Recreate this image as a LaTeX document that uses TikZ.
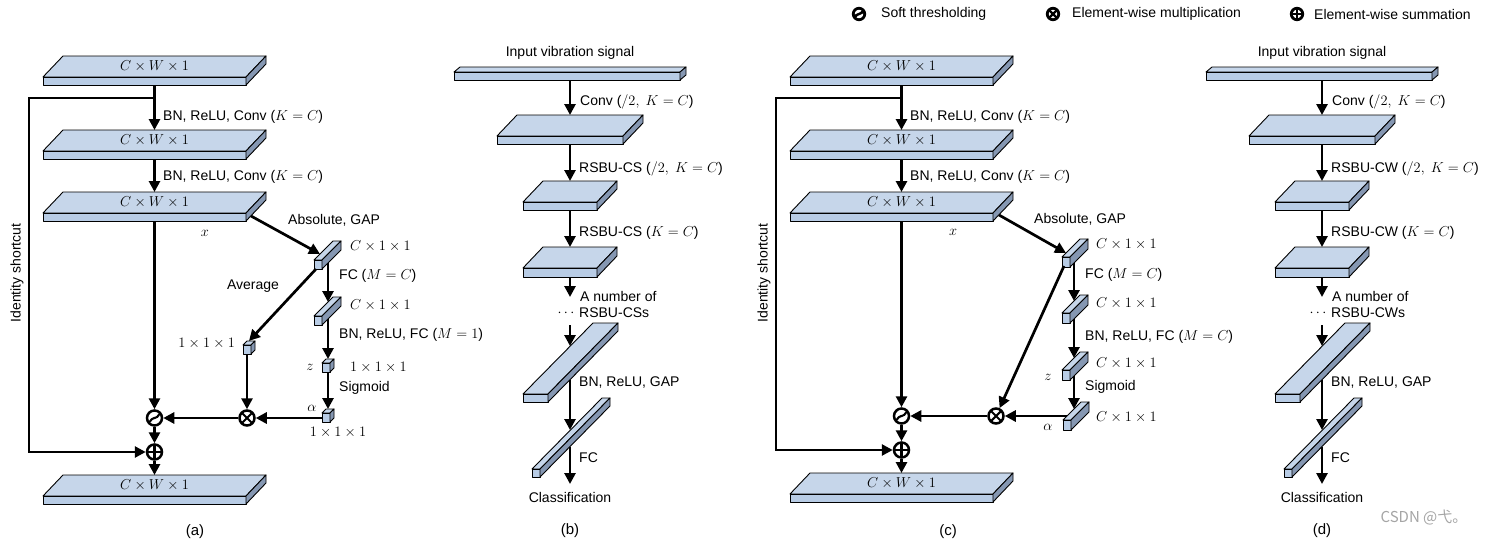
\documentclass[tikz,border=0pt]{standalone}
\usepackage[no-math]{fontspec}
\setmainfont{Liberation Sans}
\newfontfamily\cjkfont{Noto Sans CJK SC}
\usetikzlibrary{arrows.meta}
\definecolor{topc}{RGB}{198,214,234}
\definecolor{frontc}{RGB}{184,204,229}
\definecolor{sidec}{RGB}{133,151,178}
\definecolor{wmark}{RGB}{165,165,165}

% #1 name, #2 x, #3 y (front face top-left), #4 w, #5 h, #6 dx, #7 dy
\newcommand{\slabbox}[7]{%
  \filldraw[fill=topc,slabline] (#2,#3) -- (#2+#6,#3+#7) -- (#2+#4+#6,#3+#7) -- (#2+#4,#3) -- cycle;
  \filldraw[fill=frontc,slabline] (#2,#3) rectangle (#2+#4,#3+#5);
  \filldraw[fill=sidec,slabline] (#2+#4,#3) -- (#2+#4+#6,#3+#7) -- (#2+#4+#6,#3+#7+#5) -- (#2+#4,#3+#5) -- cycle;
  \coordinate (#1in) at (#2+#4/2+#6/2,#3+#7);
  \coordinate (#1out) at (#2+#4/2+#6/2,#3+#5);
  \coordinate (#1lab) at (#2+#4/2+#6/2,#3+#7/2);
}
\newcommand{\gsoft}[3]{\draw[line width=#3, rounded corners=1.5pt] ([shift={(-5*#2,4*#2)}]#1.center) -- ([shift={(-1.8*#2,0)}]#1.center) -- ([shift={(1.8*#2,0)}]#1.center) -- ([shift={(5*#2,-4*#2)}]#1.center);}
\newcommand{\gtimes}[3]{\draw[line width=#3] ([shift={(-5.3*#2,-5.3*#2)}]#1.center) -- ([shift={(5.3*#2,5.3*#2)}]#1.center) ([shift={(-5.3*#2,5.3*#2)}]#1.center) -- ([shift={(5.3*#2,-5.3*#2)}]#1.center);}
\newcommand{\gplus}[3]{\draw[line width=#3] ([shift={(-7.5*#2,0)}]#1.center) -- ([shift={(7.5*#2,0)}]#1.center) ([shift={(0,-7.5*#2)}]#1.center) -- ([shift={(0,7.5*#2)}]#1.center);}

\begin{document}
\begin{tikzpicture}[x=1pt,y=-1pt,
  slabline/.style={draw=black,line width=0.9pt,line join=round},
  arr/.style={line width=2.7pt,-{Triangle[length=11pt,width=11pt]}},
  op/.style={circle,draw,line width=2.5pt,minimum size=15pt,inner sep=0pt,fill=white},
  lg/.style={circle,draw,line width=2.8pt,minimum size=11.5pt,inner sep=0pt,fill=white},
  lab/.style={font=\fontsize{14}{16}\selectfont,inner sep=0pt,anchor=west},
  clab/.style={font=\fontsize{14}{16}\selectfont,inner sep=0pt},
  plab/.style={font=\fontsize{15}{17}\selectfont,inner sep=0pt}]
\useasboundingbox (0,0) rectangle (1488,546);
\fill[white] (0,0) rectangle (1488,546);

% ---------------- legend ----------------
\node[lg] (lgs) at (859,14) {}; \gsoft{lgs}{0.8}{2.4pt}
\node[lab] (lgst) at (881,14) {Soft thresholding};
\node[lg] (lgt) at (1053,14) {}; \gtimes{lgt}{0.77}{2.4pt}
\node[lab] (lgtt) at (1072,14) {Element-wise multiplication};
\node[lg] (lgp) at (1297,14) {}; \gplus{lgp}{0.77}{2.4pt}
\node[lab] (lgpt) at (1314,14) {Element-wise summation};

% ---------------- panels (a) and (c): common trunk ----------------
\foreach \P/\sh/\dy in {a/0/0, c/747/-2}{
\begin{scope}[xshift=\sh pt]
  \slabbox{\P1}{43}{77}{203}{8}{20}{-21}
  \slabbox{\P2}{43}{151}{203}{8}{20}{-21}
  \slabbox{\P3}{43}{213}{203}{8}{20}{-21}
  \slabbox{\P4}{43}{496+\dy}{203}{8}{20}{-21}
  \node[clab] (\P1t) at (\P1lab) {$C\times W\times 1$};
  \node[clab] (\P2t) at (\P2lab) {$C\times W\times 1$};
  \node[clab] (\P3t) at (\P3lab) {$C\times W\times 1$};
  \node[clab] (\P4t) at (\P4lab) {$C\times W\times 1$};
  \node[lab] (\P l1) at (163,117) {BN, ReLU, Conv ($K=C$)};
  \node[lab] (\P l2) at (163,177) {BN, ReLU, Conv ($K=C$)};
  \node[clab,rotate=90] (\P id) at (17,273) {Identity shortcut};
  \node[op] (\P so) at (154.5,418+\dy) {};
  \node[op] (\P pl) at (154.5,452+\dy) {};
  \coordinate (\P s1) at (154.5,98);
  \coordinate (\P s2) at (29,98);
  \draw[arr] (\P1out) -- (\P2in);
  \draw[arr] (\P2out) -- (\P3in);
  \draw[arr] (\P s1) -- (\P s2) |- (\P pl);
  \draw[arr] (\P3out) -- (\P so);
  \draw[arr] (\P so) -- (\P pl);
  \draw[arr] (\P pl) -- (\P4in);
  \gsoft{\P so}{1}{2.1pt}
  \gplus{\P pl}{1}{2.1pt}
\end{scope}
}

% ---------------- panel (a) right branch ----------------
\slabbox{ab1}{314}{260}{8}{9}{19}{-19}
\slabbox{ab2}{314}{316}{8}{9}{19}{-19}
\slabbox{acl}{243}{345}{8}{9}{4}{-4}
\slabbox{acz}{322}{363}{8}{9}{4}{-4}
\slabbox{aca}{322}{413}{8}{9}{4}{-4}
\node[op] (aot) at (247,418) {};
\coordinate (aG0) at (251,216);
\coordinate (aG1) at (320,254);
\coordinate (ab1o) at (328,263);
\coordinate (ab2i) at (328,302);
\coordinate (ab2o) at (328,319);
\coordinate (ab1l) at (316,269);
\coordinate (aclo) at (247,354);
\coordinate (acaw) at (322,418);
\draw[arr] (aG0) -- (aG1);
\draw[arr] (ab1o) -- (ab2i);
\draw[arr] (ab2o) -- (aczin);
\draw[arr] (aczout) -- (acain);
\draw[arr] (ab1l) -- (aclin);
\draw[arr] (aclo) -- (aot);
\draw[arr] (acaw) -- (aot);
\draw[arr] (aot) -- (aso);
\gtimes{aot}{1}{2.1pt}
\node[lab] (aabs) at (288,220) {Absolute, GAP};
\node[clab] (ax) at (205,233) {$x$};
\node[clab] (aavg) at (253,286) {Average};
\node[lab] (ab1t) at (350,246) {$C\times 1\times 1$};
\node[lab] (afc) at (339,276) {FC ($M=C$)};
\node[lab] (ab2t) at (350,305) {$C\times 1\times 1$};
\node[lab] (abn) at (339,335) {BN, ReLU, FC ($M=1$)};
\node[clab] (az) at (310,367) {$z$};
\node[lab] (azt) at (350,367) {$1\times 1\times 1$};
\node[lab] (asig) at (339,388) {Sigmoid};
\node[clab] (aal) at (312,408) {$\alpha$};
\node[clab] (aat) at (338,432) {$1\times 1\times 1$};
\node[clab,anchor=east] (aclt) at (235,343) {$1\times 1\times 1$};
\node[plab] (acap) at (195,532) {(a)};

% ---------------- panel (c) right branch ----------------
\begin{scope}[xshift=747pt]
\slabbox{cb1}{315}{257}{8}{10}{18}{-18}
\slabbox{cb2}{315}{313}{8}{10}{18}{-18}
\slabbox{cb3}{315}{370}{8}{10}{18}{-18}
\slabbox{cb4}{316}{420}{8}{10}{18}{-18}
\node[op] (cot) at (249,416) {};
\coordinate (cG0) at (252,215);
\coordinate (cG1) at (319,253);
\coordinate (cb1o) at (327,263);
\coordinate (cb2i) at (327,301);
\coordinate (cb2o) at (327,319);
\coordinate (cb3i) at (327,358);
\coordinate (cb3o) at (327,376);
\coordinate (cb4i) at (327,409);
\coordinate (cb1l) at (317,266);
\coordinate (cb4w) at (320,416);
\draw[arr] (cG0) -- (cG1);
\draw[arr] (cb1o) -- (cb2i);
\draw[arr] (cb2o) -- (cb3i);
\draw[arr] (cb3o) -- (cb4i);
\draw[arr] (cb1l) -- (cot);
\draw[arr] (cb4w) -- (cot);
\draw[arr] (cot) -- (cso);
\gtimes{cot}{1}{2.1pt}
\node[lab] (cabs) at (287,219) {Absolute, GAP};
\node[clab] (cx) at (206,232) {$x$};
\node[lab] (cb1t) at (349,244) {$C\times 1\times 1$};
\node[lab] (cfc) at (338,275) {FC ($M=C$)};
\node[lab] (cb2t) at (349,303) {$C\times 1\times 1$};
\node[lab] (cbn) at (338,337) {BN, ReLU, FC ($M=C$)};
\node[lab] (cb3t) at (349,363) {$C\times 1\times 1$};
\node[clab] (cz) at (301,377) {$z$};
\node[lab] (csig) at (338,387) {Sigmoid};
\node[lab] (cb4t) at (349,417) {$C\times 1\times 1$};
\node[clab] (cal) at (301,427) {$\alpha$};
\node[plab] (ccap) at (201,532) {(c)};
\end{scope}

% ---------------- panels (b) and (d) ----------------
\foreach \P/\sh/\U/\cp in {b/0/CS/(b), d/752/CW/(d)}{
\begin{scope}[xshift=\sh pt]
  \slabbox{\P1}{454}{72}{226}{8}{6}{-5}
  \slabbox{\P2}{497}{136}{126}{8}{20}{-21}
  \slabbox{\P3}{523}{202}{74}{8}{20}{-21}
  \slabbox{\P4}{523}{268}{74}{9}{20}{-21}
  \slabbox{\P5}{523}{394}{25}{8}{70}{-71}
  \slabbox{\P6}{532}{469}{8}{8}{70}{-71}
  \coordinate (\P d1) at (570,297);
  \coordinate (\P d2) at (570,325);
  \coordinate (\P 5i) at (570,346);
  \coordinate (\P 5o) at (570,380);
  \coordinate (\P 6i) at (570,430);
  \coordinate (\P 6o) at (570,447);
  \coordinate (\P cl) at (570,484);
  \draw[arr] (\P1out) -- (\P2in);
  \draw[arr] (\P2out) -- (\P3in);
  \draw[arr] (\P3out) -- (\P4in);
  \draw[arr] (\P4out) -- (\P d1);
  \draw[arr] (\P d2) -- (\P 5i);
  \draw[arr] (\P 5o) -- (\P 6i);
  \draw[arr] (\P 6o) -- (\P cl);
  \node[clab] (\P in) at (570,53) {Input vibration signal};
  \node[lab] (\P c1) at (580,102) {Conv ($/2,\ K=C$)};
  \node[lab] (\P c2) at (579,169) {RSBU-\U\ ($/2,\ K=C$)};
  \node[lab] (\P c3) at (579,233) {RSBU-\U\ ($K=C$)};
  \node[lab] (\P c4) at (580,296) {A number of};
  \node[clab] (\P dots) at (566,313) {$\cdots$};
  \node[lab] (\P c5) at (579,313) {RSBU-\U s};
  \node[lab] (\P c6) at (579,383) {BN, ReLU, GAP};
  \node[lab] (\P c7) at (579,458) {FC};
  \node[clab] (\P c8) at (570,497) {Classification};
  \node[plab] (\P cap) at (570,531) {\cp};
\end{scope}
}

\node[font=\fontsize{15}{17}\selectfont\cjkfont,text=wmark,inner sep=0pt] (wm) at (1424,518) {CSDN @弋。};
\end{tikzpicture}
\end{document}
